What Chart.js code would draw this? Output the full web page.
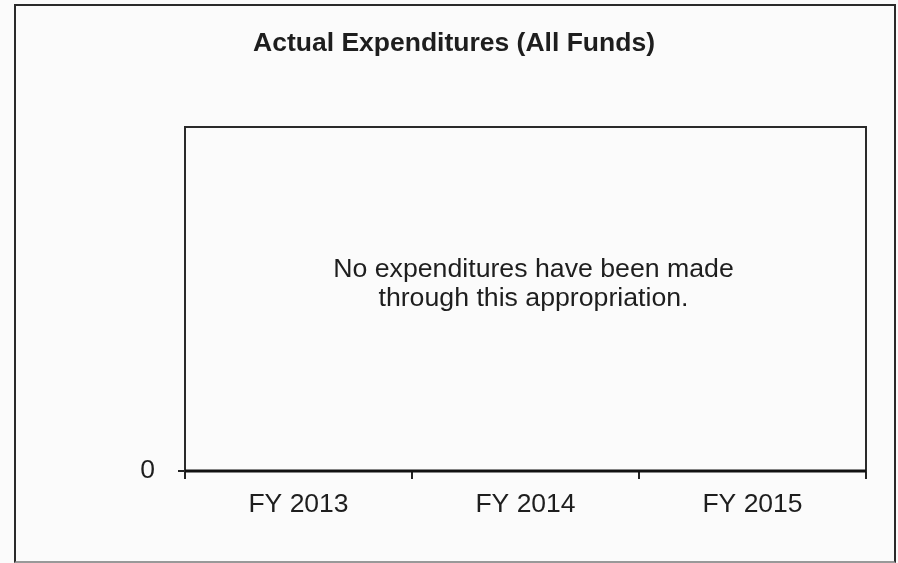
<!DOCTYPE html>
<html lang="en">
<head>
    <meta charset="UTF-8">
    <title>Actual Expenditures (All Funds)</title>
    <script src="https://cdn.jsdelivr.net/npm/chart.js"></script>
    <style>
        * {
            margin: 0;
            padding: 0;
            box-sizing: border-box;
        }
        body {
            width: 898px;
            height: 563px;
            background: #fbfbfb;
            position: relative;
            overflow: hidden;
        }
        .frame {
            position: absolute;
            left: 14px;
            top: 4px;
            width: 882px;
            height: 559px;
            border: 2px solid #2a2a2a;
            border-bottom-color: #999;
        }
        #chart {
            position: absolute;
            left: 0;
            top: 0;
        }
    </style>
</head>
<body>
    <div class="frame"></div>
    <canvas id="chart" width="898" height="563"></canvas>
    <script>
        const chartTitle = 'Actual Expenditures (All Funds)';
        const categories = ['FY 2013', 'FY 2014', 'FY 2015'];
        const expenditures = [0, 0, 0];
        const yTickValues = [0];
        const noteLines = ['No expenditures have been made', 'through this appropriation.'];

        const FONT = "'Liberation Sans', Arial, sans-serif";
        const INK = '#1e1e1e';

        // title, box around the plot area and the centred note
        const plotBox = {
            id: 'plotBox',
            afterDraw(chart) {
                const { ctx, chartArea: a } = chart;
                ctx.save();
                ctx.strokeStyle = '#2a2a2a';
                ctx.lineWidth = 2;
                ctx.strokeRect(a.left, a.top, a.right - a.left, a.bottom - a.top);
                ctx.lineWidth = 3;
                ctx.strokeStyle = '#111';
                ctx.beginPath();
                ctx.moveTo(a.left, a.bottom);
                ctx.lineTo(a.right, a.bottom);
                ctx.stroke();

                ctx.fillStyle = INK;
                ctx.textAlign = 'center';
                ctx.textBaseline = 'middle';
                ctx.font = 'bold 26.5px ' + FONT;
                ctx.fillText(chartTitle, 454, 43.5);

                ctx.font = '26.7px ' + FONT;
                const cx = (a.left + a.right) / 2 + 8;
                ctx.fillText(noteLines[0], cx, 270);
                ctx.fillText(noteLines[1], cx, 299);
                ctx.restore();
            }
        };

        new Chart(document.getElementById('chart'), {
            type: 'bar',
            data: {
                labels: categories,
                datasets: [{
                    data: expenditures,
                    backgroundColor: '#6666cc'
                }]
            },
            plugins: [plotBox],
            options: {
                responsive: false,
                animation: false,
                layout: { padding: { left: 0, right: 32, top: 127, bottom: 0 } },
                plugins: {
                    legend: { display: false },
                    tooltip: { enabled: false },
                    title: { display: false }
                },
                scales: {
                    x: {
                        offset: true,
                        grid: {
                            offset: true,
                            drawOnChartArea: false,
                            tickLength: 8,
                            color: '#222',
                            lineWidth: 2
                        },
                        border: { display: false },
                        ticks: {
                            color: INK,
                            font: { family: FONT, size: 26.5 },
                            padding: 10
                        },
                        afterFit(scale) { scale.height = 92; }
                    },
                    y: {
                        min: 0,
                        max: 1,
                        afterBuildTicks(scale) {
                            scale.ticks = yTickValues.map(v => ({ value: v }));
                        },
                        grid: {
                            drawOnChartArea: false,
                            tickLength: 7,
                            color: '#222',
                            lineWidth: 2
                        },
                        border: { display: false },
                        ticks: {
                            color: INK,
                            font: { family: FONT, size: 26.5 },
                            padding: 23
                        },
                        afterFit(scale) { scale.width = 185; }
                    }
                }
            }
        });
    </script>
</body>
</html>
